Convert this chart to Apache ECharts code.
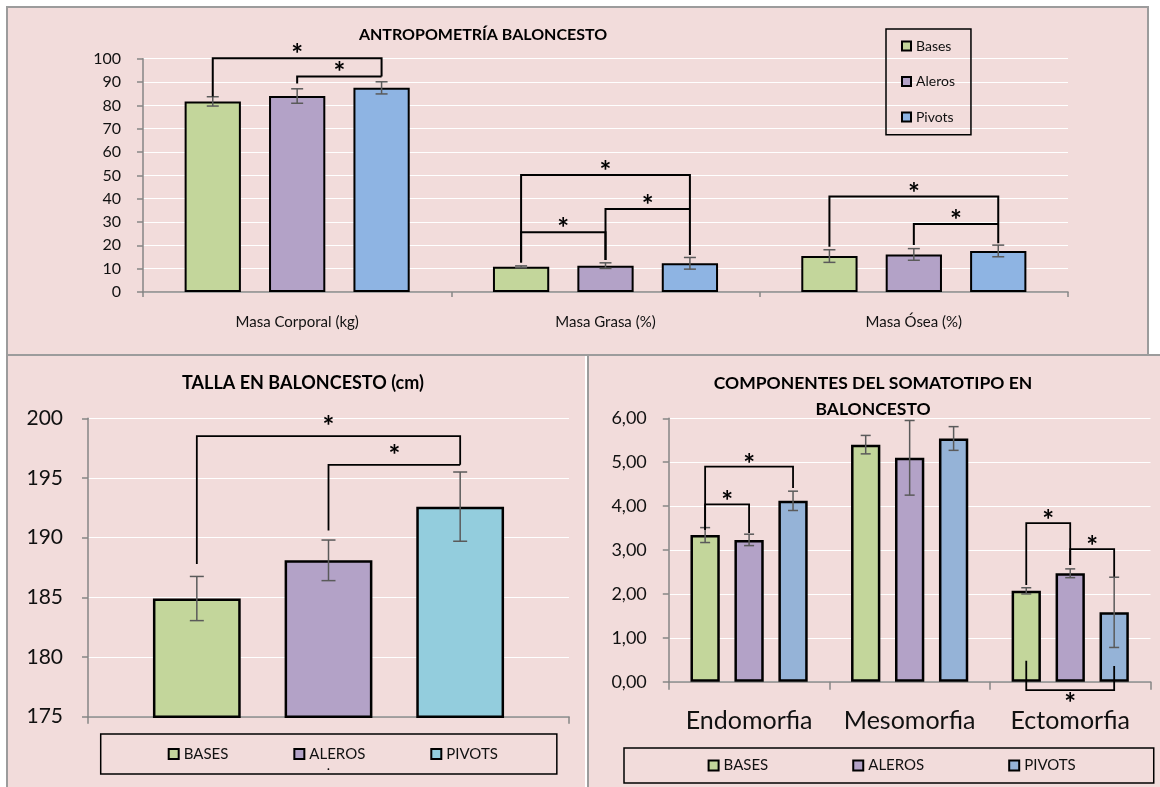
<!DOCTYPE html>
<html>
<head>
<meta charset="utf-8">
<script src="https://cdn.jsdelivr.net/npm/echarts@6/dist/echarts.min.js"></script>
<style>
  html, body { margin: 0; padding: 0; background: #fff; width: 1160px; height: 787px; overflow: hidden; position: relative; }
  .panel { position: absolute; box-sizing: border-box; background: #F2DCDB; border: 0 solid #9C9C9C; overflow: hidden; }
  #pA { left: 6px; top: 6px; width: 1143px; height: 350px; border-width: 2px; }
  #pB { left: 6px; top: 354px; width: 579px; height: 440px; border-width: 2px 0 0 2px; }
  #pC { left: 587px; top: 354px; width: 580px; height: 440px; border-width: 2px 0 0 2px; }
  .chart { position: absolute; left: 0; top: 0; }
  #cA { width: 1139px; height: 346px; }
  #cB { width: 577px; height: 431px; }
  #cC { width: 571px; height: 431px; }
</style>
</head>
<body>
<div class="panel" id="pA"><div class="chart" id="cA"></div></div>
<div class="panel" id="pB"><div class="chart" id="cB"></div></div>
<div class="panel" id="pC"><div class="chart" id="cC"></div></div>
<script>
// ---------- Antropometría ----------
const antroCategories = ['Masa Corporal (kg)', 'Masa Grasa (%)', 'Masa Ósea (%)'];
const antroNames = ['Bases', 'Aleros', 'Pivots'];
const antroBases = [81.7, 10.8, 15.4];
const antroAleros = [84.0, 11.3, 16.1];
const antroPivots = [87.5, 12.3, 17.6];
const antroBasesSD = [2.0, 0.4, 2.7];
const antroAlerosSD = [3.1, 1.2, 2.5];
const antroPivotsSD = [2.6, 2.5, 2.5];
const antroTicks = { min: 0, max: 100, step: 10 };
// [category, fromGroup, toGroup, level, fromFoot, toFoot, side]
const antroBrackets = [
  [0, 0, 2, 100.2, 83.8, 92.4, 1],
  [0, 1, 2, 92.4, 89.4, 92.4, 1],
  [1, 0, 2, 50.1, 12.6, 15.9, 1],
  [1, 0, 1, 25.6, 12.6, 13.7, 1],
  [1, 1, 2, 35.6, 13.7, 35.6, 1],
  [2, 0, 2, 40.9, 19.4, 20.9, 1],
  [2, 1, 2, 29.1, 20.1, 29.1, 1]
];

// ---------- Talla ----------
const tallaCategories = ['Talla'];
const tallaNames = ['BASES', 'ALEROS', 'PIVOTS'];
const tallaBases = [184.9];
const tallaAleros = [188.1];
const tallaPivots = [192.6];
const tallaBasesSD = [1.85];
const tallaAlerosSD = [1.7];
const tallaPivotsSD = [2.9];
const tallaTicks = { min: 175, max: 200, step: 5 };
const tallaBrackets = [
  [0, 0, 2, 198.5, 187.8, 196.1, 1],
  [0, 1, 2, 196.1, 190.6, 196.1, 1]
];

// ---------- Somatotipo ----------
const somaCategories = ['Endomorfia', 'Mesomorfia', 'Ectomorfia'];
const somaNames = ['BASES', 'ALEROS', 'PIVOTS'];
const somaBases = [3.34, 5.40, 2.07];
const somaAleros = [3.23, 5.10, 2.47];
const somaPivots = [4.12, 5.54, 1.58];
const somaBasesSD = [0.17, 0.21, 0.07];
const somaAlerosSD = [0.13, 0.85, 0.10];
const somaPivotsSD = [0.22, 0.27, 0.80];
const somaTicks = { min: 0, max: 6, step: 1 };
const somaBrackets = [
  [0, 0, 2, 4.90, 3.46, 4.41, 1],
  [0, 0, 1, 4.04, 3.46, 3.39, 1],
  [2, 0, 1, 3.61, 2.20, 2.66, 1],
  [2, 1, 2, 3.02, 2.66, 2.39, 1],
  [2, 0, 2, -0.19, 0.48, 0.36, -1]
];

// ---------- shared styling ----------
const FONT = 'Lato, "Open Sans", "DejaVu Sans", sans-serif';
const AXIS_GRAY = '#868686';
const TEXT = '#111';
const GREEN = '#C3D69B', PURPLE = '#B3A2C7', BLUE = '#8EB4E3', CYAN = '#93CDDD', STEEL = '#95B3D7';
const CAT_GAP = 0.27, BAR_GAP = 0.5, N_GROUPS = 3;

// centre offset of a group's bar inside its category band (same rule ECharts uses for bars)
function slotOffset(band, slot) {
  const w = band * (1 - CAT_GAP) / (N_GROUPS + (N_GROUPS - 1) * BAR_GAP);
  return (slot - (N_GROUPS - 1) / 2) * w * (1 + BAR_GAP);
}

function barSeries(name, data, color, borderWidth) {
  return {
    name, type: 'bar', data,
    barGap: (BAR_GAP * 100) + '%', barCategoryGap: (CAT_GAP * 100) + '%',
    itemStyle: { color, borderColor: '#000', borderWidth },
    emphasis: { disabled: true }, z: 2
  };
}

function errorSeries(values, sds, slot, st) {
  return {
    type: 'custom', clip: false, silent: true, z: 5,
    data: values.map((v, i) => [i, v, sds[i]]),
    renderItem(params, api) {
      const cat = api.value(0), v = api.value(1), sd = api.value(2);
      const band = api.size([1, 0])[0];
      const x = api.coord([cat, v])[0] + slotOffset(band, slot);
      const yHi = api.coord([cat, v + sd])[1];
      const yLo = api.coord([cat, v - sd])[1];
      const h = st.cap / 2;
      const style = { stroke: '#5A5A5A', lineWidth: st.width };
      return {
        type: 'group', children: [
          { type: 'line', shape: { x1: x, y1: yHi, x2: x, y2: yLo }, style },
          { type: 'line', shape: { x1: x - h, y1: yHi, x2: x + h, y2: yHi }, style },
          { type: 'line', shape: { x1: x - h, y1: yLo, x2: x + h, y2: yLo }, style }
        ]
      };
    }
  };
}

// significance brackets with their asterisk
function bracketSeries(brackets, st) {
  return {
    type: 'custom', clip: false, silent: true, z: 6,
    data: brackets,
    renderItem(params, api) {
      const cat = api.value(0), a = api.value(1), b = api.value(2);
      const level = api.value(3), fa = api.value(4), fb = api.value(5), side = api.value(6);
      const band = api.size([1, 0])[0];
      const c = api.coord([cat, level]);
      const xa = c[0] + slotOffset(band, a), xb = c[0] + slotOffset(band, b);
      const yl = c[1];
      const ya = api.coord([cat, fa])[1], yb = api.coord([cat, fb])[1];
      const sy = yl - side * st.starGap + st.starShift;
      return {
        type: 'group', children: [
          { type: 'polyline', shape: { points: [[xa, ya], [xa, yl], [xb, yl], [xb, yb]] },
            style: { stroke: '#000', lineWidth: st.width, fill: null } },
          { type: 'text', x: (xa + xb) / 2, y: sy,
            style: { text: '*', fill: '#000', font: 'bold ' + st.starFont + 'px ' + FONT,
                     align: 'center', verticalAlign: 'middle', textAlign: 'center', textVerticalAlign: 'middle' } }
        ]
      };
    }
  };
}

function valueAxis(t, fontSize, margin, fmt) {
  return {
    type: 'value', min: t.min, max: t.max, interval: t.step,
    axisLine: { show: true, lineStyle: { color: AXIS_GRAY, width: 1.5 } },
    axisTick: { show: true, inside: false, length: 6, lineStyle: { color: AXIS_GRAY, width: 1.5 } },
    axisLabel: { color: TEXT, fontSize, fontFamily: FONT, margin, formatter: fmt },
    splitLine: { show: true, lineStyle: { color: '#FFFFFF', width: 1.2 } }
  };
}

function categoryAxis(cats, label, tickLen) {
  return {
    type: 'category', data: cats, boundaryGap: true,
    axisLine: { show: true, lineStyle: { color: AXIS_GRAY, width: 1.5 } },
    axisTick: { show: true, length: tickLen, alignWithLabel: false, lineStyle: { color: AXIS_GRAY, width: 1.5 } },
    axisLabel: Object.assign({ interval: 0 }, label)
  };
}

function titleText(lines, x, y, size, lineGap) {
  return lines.map((t, i) => ({
    type: 'text', x, y: y + i * lineGap, silent: true,
    style: { text: t, fill: '#000', font: 'bold ' + size + 'px ' + FONT,
             align: 'center', verticalAlign: 'middle', textAlign: 'center', textVerticalAlign: 'middle' }
  }));
}

// ---------- chart A: antropometría ----------
const chartA = echarts.init(document.getElementById('cA'), null, { renderer: 'canvas' });
chartA.setOption({
  backgroundColor: '#F2DCDB',
  animation: false,
  textStyle: { fontFamily: FONT },
  grid: { left: 135, top: 50.7, width: 925, height: 233.3 },
  xAxis: categoryAxis(antroCategories, { color: TEXT, fontSize: 15, fontFamily: FONT, margin: 23 }, 5),
  yAxis: valueAxis(antroTicks, 16, 22),
  legend: {
    data: antroNames, orient: 'vertical', left: 878, top: 21,
    padding: [9, 16, 9.7, 15], itemGap: 19.5, itemWidth: 9, itemHeight: 9, icon: 'rect',
    borderColor: '#000', borderWidth: 1.5,
    itemStyle: { borderColor: '#000', borderWidth: 2 },
    textStyle: { color: TEXT, fontSize: 14, lineHeight: 16, fontFamily: FONT }
  },
  graphic: titleText(['ANTROPOMETRÍA BALONCESTO'], 475, 27, 16, 0),
  series: [
    barSeries(antroNames[0], antroBases, GREEN, 2),
    barSeries(antroNames[1], antroAleros, PURPLE, 2),
    barSeries(antroNames[2], antroPivots, BLUE, 2),
    errorSeries(antroBases, antroBasesSD, 0, { cap: 12, width: 1.5 }),
    errorSeries(antroAleros, antroAlerosSD, 1, { cap: 12, width: 1.5 }),
    errorSeries(antroPivots, antroPivotsSD, 2, { cap: 12, width: 1.5 }),
    bracketSeries(antroBrackets, { width: 2, starGap: 9, starShift: 6, starFont: 28 })
  ]
});

// ---------- chart B: talla ----------
const chartB = echarts.init(document.getElementById('cB'), null, { renderer: 'canvas' });
chartB.setOption({
  backgroundColor: '#F2DCDB',
  animation: false,
  textStyle: { fontFamily: FONT },
  grid: { left: 80, top: 62.3, width: 481, height: 298.4 },
  xAxis: categoryAxis(tallaCategories, { show: false }, 7),
  yAxis: valueAxis(tallaTicks, 21, 25),
  legend: {
    data: tallaNames, orient: 'horizontal', left: 92.7, top: 378,
    padding: [12, 59, 12, 67], itemGap: 65, itemWidth: 10, itemHeight: 10, icon: 'rect',
    borderColor: '#000', borderWidth: 1.5,
    itemStyle: { borderColor: '#000', borderWidth: 2 },
    textStyle: { color: TEXT, fontSize: 15, lineHeight: 16, fontFamily: FONT }
  },
  graphic: titleText(['TALLA EN BALONCESTO (cm)'], 295, 27, 18, 0).concat([
    { type: 'text', x: 320.5, y: 409, silent: true,
      style: { text: '.', fill: '#000', font: '14px ' + FONT, align: 'center', verticalAlign: 'middle', textAlign: 'center', textVerticalAlign: 'middle' } }
  ]),
  series: [
    barSeries(tallaNames[0], tallaBases, GREEN, 2.5),
    barSeries(tallaNames[1], tallaAleros, PURPLE, 2.5),
    barSeries(tallaNames[2], tallaPivots, CYAN, 2.5),
    errorSeries(tallaBases, tallaBasesSD, 0, { cap: 14, width: 1.5 }),
    errorSeries(tallaAleros, tallaAlerosSD, 1, { cap: 14, width: 1.5 }),
    errorSeries(tallaPivots, tallaPivotsSD, 2, { cap: 14, width: 1.5 }),
    bracketSeries(tallaBrackets, { width: 1.8, starGap: 15, starShift: 6, starFont: 28 })
  ]
});

// ---------- chart C: somatotipo ----------
const chartC = echarts.init(document.getElementById('cC'), null, { renderer: 'canvas' });
chartC.setOption({
  backgroundColor: '#F2DCDB',
  animation: false,
  textStyle: { fontFamily: FONT },
  grid: { left: 79.8, top: 62.3, width: 481.7, height: 263.4 },
  xAxis: categoryAxis(somaCategories, { color: TEXT, fontSize: 25, fontFamily: FONT, margin: 27 }, 8),
  yAxis: valueAxis(somaTicks, 18, 22, v => v.toFixed(2).replace('.', ',')),
  legend: {
    data: somaNames, orient: 'horizontal', left: 35, top: 392,
    padding: [9.5, 78, 9.5, 83.6], itemGap: 84, itemWidth: 10, itemHeight: 10, icon: 'rect',
    borderColor: '#000', borderWidth: 1.5,
    itemStyle: { borderColor: '#000', borderWidth: 2 },
    textStyle: { color: TEXT, fontSize: 15, lineHeight: 16, fontFamily: FONT }
  },
  graphic: titleText(['COMPONENTES DEL SOMATOTIPO EN', 'BALONCESTO'], 284, 27.3, 17.5, 26),
  series: [
    barSeries(somaNames[0], somaBases, GREEN, 2.5),
    barSeries(somaNames[1], somaAleros, PURPLE, 2.5),
    barSeries(somaNames[2], somaPivots, STEEL, 2.5),
    errorSeries(somaBases, somaBasesSD, 0, { cap: 10, width: 1.5 }),
    errorSeries(somaAleros, somaAlerosSD, 1, { cap: 10, width: 1.5 }),
    errorSeries(somaPivots, somaPivotsSD, 2, { cap: 10, width: 1.5 }),
    bracketSeries(somaBrackets, { width: 1.8, starGap: 8, starShift: 6, starFont: 28 })
  ]
});
</script>
</body>
</html>
